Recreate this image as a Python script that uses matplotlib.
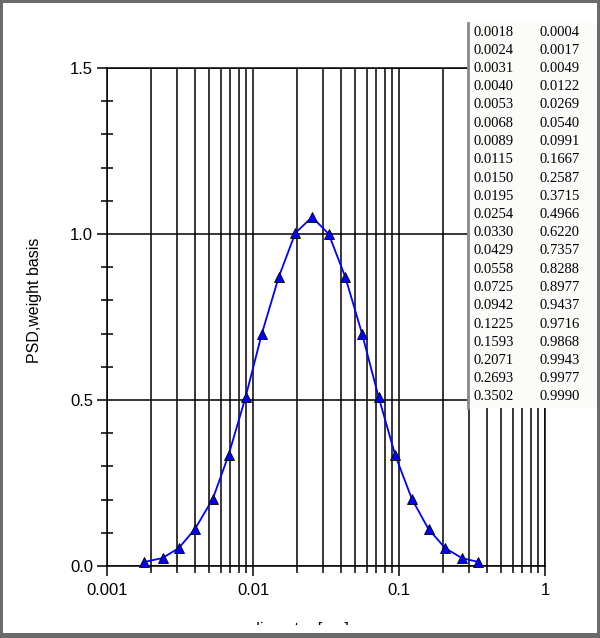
import matplotlib
matplotlib.use('Agg')
import matplotlib.pyplot as plt
from matplotlib.patches import Rectangle
from matplotlib.ticker import FixedLocator, NullFormatter, MultipleLocator

plt.rcParams['font.family'] = ['Liberation Sans', 'DejaVu Sans']

diameter = [0.0018, 0.0024, 0.0031, 0.0040, 0.0053, 0.0068, 0.0089, 0.0115,
            0.0150, 0.0195, 0.0254, 0.0330, 0.0429, 0.0558, 0.0725, 0.0942,
            0.1225, 0.1593, 0.2071, 0.2693, 0.3502]
psd = [0.012, 0.024, 0.054, 0.111, 0.202, 0.334, 0.509, 0.700, 0.870, 1.003,
       1.051, 1.000, 0.870, 0.700, 0.509, 0.334, 0.202, 0.111, 0.054, 0.024,
       0.012]
cumulative = ['0.0004', '0.0017', '0.0049', '0.0122', '0.0269', '0.0540',
              '0.0991', '0.1667', '0.2587', '0.3715', '0.4966', '0.6220',
              '0.7357', '0.8288', '0.8977', '0.9437', '0.9716', '0.9868',
              '0.9943', '0.9977', '0.9990']
diam_labels = ['%.4f' % d for d in diameter]

x_major = [0.001, 0.01, 0.1, 1]
x_major_labels = ['0.001', '0.01', '0.1', '1']
y_major = [0.0, 0.5, 1.0, 1.5]

W, H = 600, 638
fig = plt.figure(figsize=(W / 100, H / 100), dpi=100)

ax = fig.add_axes([107 / W, 1 - 566 / H, 438 / W, 498 / H])
ax.set_xscale('log')
ax.set_xlim(0.001, 1)
ax.set_ylim(0, 1.5)

ax.plot(diameter, psd, color='#0000ff', lw=1.3, marker='^', ms=7.5,
        markerfacecolor='#0000ff', markeredgecolor='black', mew=0.6,
        zorder=3, clip_on=False)

ax.xaxis.set_major_locator(FixedLocator(x_major))
ax.set_xticklabels(x_major_labels)
minors = [m * 10.0 ** e for e in (-3, -2, -1) for m in range(2, 10)]
ax.xaxis.set_minor_locator(FixedLocator(minors))
ax.xaxis.set_minor_formatter(NullFormatter())
ax.set_yticks(y_major)
ax.set_yticklabels(['0.0', '0.5', '1.0', '1.5'])
ax.yaxis.set_minor_locator(MultipleLocator(0.1))

ax.tick_params(axis='x', which='major', direction='out', length=7.5,
               width=1.1, pad=4.5, labelsize=12)
ax.tick_params(axis='x', which='minor', direction='out', length=5,
               width=1.1)
ax.tick_params(axis='y', which='major', direction='out', length=7,
               width=1.1, pad=3, labelsize=12)
ax.tick_params(axis='y', which='minor', direction='inout', length=8.5,
               width=1.1)

ax.grid(True, which='both', axis='x', color='black', lw=1.1)
ax.grid(True, which='major', axis='y', color='black', lw=1.1)
for s in ax.spines.values():
    s.set_color('black')
    s.set_linewidth(1.1)

ax.set_ylabel('PSD,weight basis', fontsize=11.5)
ax.yaxis.set_label_coords((42 - 107) / 438, (566 - 300) / 498)

fig.text(0.5, 1 - 622 / H, 'diameter [um]', ha='center', va='top',
         fontsize=11.5, zorder=3)

# data table overlay
tab = fig.add_axes([468 / W, 1 - 408 / H, 130 / W, 385 / H], zorder=5)
tab.set_facecolor('#fbfbf9')
tab.set_xlim(0, 130)
tab.set_ylim(385, 0)
tab.set_xticks([])
tab.set_yticks([])
for name, s in tab.spines.items():
    s.set_visible(name == 'left')
tab.spines['left'].set_color('#8a8a8a')
tab.spines['left'].set_linewidth(2)
for i, (d, c) in enumerate(zip(diam_labels, cumulative)):
    yy = 9 + 18.25 * i
    tab.text(6, yy, d, va='center', ha='left', fontsize=10.5,
             family='Liberation Serif')
    tab.text(71, yy, c, va='center', ha='left', fontsize=10.5,
             family='Liberation Serif')

# clip strip and window frame
fig.patches.append(Rectangle((0, 5 / H), 1, 8 / H, transform=fig.transFigure,
                             facecolor='white', edgecolor='none', zorder=20))
frame = '#6a6a6a'
for (x0, y0, w, h) in [(0, 0, 1, 5 / H), (0, 1 - 3 / H, 1, 3 / H),
                       (0, 0, 3 / W, 1), (1 - 3 / W, 0, 3 / W, 1)]:
    fig.patches.append(Rectangle((x0, y0), w, h, transform=fig.transFigure,
                                 facecolor=frame, edgecolor='none', zorder=21))

fig.savefig('out.png', dpi=100)
